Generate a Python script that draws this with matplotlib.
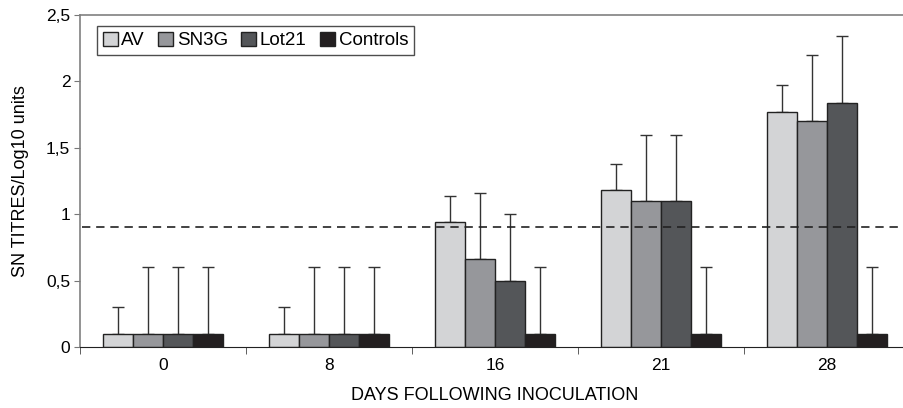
import numpy as np
import matplotlib.pyplot as plt

plt.rcParams['font.family'] = ['Liberation Sans', 'DejaVu Sans']

# data
days = ['0', '8', '16', '21', '28']
series = ['AV', 'SN3G', 'Lot21', 'Controls']
av = [0.1, 0.1, 0.94, 1.18, 1.77]
sn3g = [0.1, 0.1, 0.66, 1.10, 1.70]
lot21 = [0.1, 0.1, 0.50, 1.10, 1.84]
controls = [0.1, 0.1, 0.1, 0.1, 0.1]
av_err = [0.2, 0.2, 0.2, 0.2, 0.2]
sn3g_err = [0.5, 0.5, 0.5, 0.5, 0.5]
lot21_err = [0.5, 0.5, 0.5, 0.5, 0.5]
controls_err = [0.5, 0.5, 0.5, 0.5, 0.5]
threshold = 0.9

colors = ['#d3d4d6', '#96979b', '#545659', '#231f20']
values = [av, sn3g, lot21, controls]
errors = [av_err, sn3g_err, lot21_err, controls_err]

fig = plt.figure(figsize=(9.04, 4.08), dpi=100)
ax = fig.add_axes([80 / 904, 61 / 408, 830 / 904, 332 / 408])

x = np.arange(len(days))
bar_width = 0.182
for i, (name, vals, errs) in enumerate(zip(series, values, errors)):
    pos = x + (i - 1.5) * bar_width
    ax.bar(pos, vals, width=bar_width, color=colors[i], edgecolor='#222222',
           linewidth=1.0, label=name, zorder=2)
    ax.errorbar(pos, vals, yerr=[np.zeros(len(errs)), errs], fmt='none',
                ecolor='#333333', elinewidth=1.0, capsize=4.3, capthick=1.0, zorder=1)

ax.axhline(threshold, xmin=0.003, color='#222222', linestyle=(0, (5, 3.5)),
           linewidth=1.2, zorder=3)

fs = 12.5
ax.set_xlim(-0.5, len(days) - 0.5)
ax.set_ylim(0, 2.5)
ax.set_yticks([0, 0.5, 1, 1.5, 2, 2.5])
ax.set_yticklabels(['0', '0,5', '1', '1,5', '2', '2,5'], fontsize=fs)
ax.set_xticks(x)
ax.set_xticklabels(days, fontsize=fs)
ax.tick_params(axis='x', which='major', length=0, pad=8)
ax.set_xticks(np.arange(-0.5, len(days) - 0.4, 1), minor=True)
ax.tick_params(axis='x', which='minor', length=5, direction='out', color='#444444')
ax.tick_params(axis='y', length=4, direction='out', color='#777777', pad=3)

for s in ['left', 'top']:
    ax.spines[s].set_color('#808080')
    ax.spines[s].set_linewidth(1.2)
ax.spines['bottom'].set_color('#222222')
ax.spines['right'].set_visible(False)

ax.set_xlabel('DAYS FOLLOWING INOCULATION', fontsize=13, labelpad=10)
ax.set_ylabel('SN TITRES/Log10 units', fontsize=13, labelpad=12)

leg = ax.legend(loc='upper left', bbox_to_anchor=(0.0205, 0.967), ncol=4, fontsize=13.5,
                frameon=True, fancybox=False, edgecolor='#222222', handlelength=0.8,
                handleheight=0.8, handletextpad=0.2, columnspacing=0.7,
                borderpad=0.3, borderaxespad=0)
leg.get_frame().set_linewidth(1.0)

fig.savefig('out.png', dpi=100)
